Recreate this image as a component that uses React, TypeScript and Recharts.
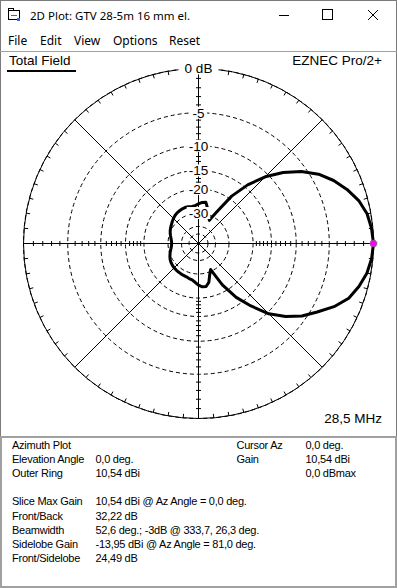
import React from "react";
import { RadarChart, Radar, PolarGrid, PolarAngleAxis, PolarRadiusAxis } from "recharts";

// ---- data ----
const AZIMUTH_DEG = [
  0, 5, 10, 15, 20, 25, 30, 35, 40, 45, 50, 55, 60, 65, 70, 75, 80, 85,
  90, 95, 100, 105, 110, 115, 120, 125, 130, 135, 140, 145, 150, 155, 160, 165, 170, 175,
  180, 185, 190, 195, 200, 205, 210, 215, 220, 225, 230, 235, 240, 245, 250, 255, 260, 265,
  270, 275, 280, 285, 290, 295, 300, 305, 310, 315, 320, 325, 330, 335, 340, 345, 350, 355,
];
// relative field (dB below max)
const PATTERN_DB = [
  0, -0.13, -0.38, -0.92, -1.75, -2.75, -4.0, -5.7, -7.9, -10.6, -14.2, -19.0, -27.0, -33.0, -30.3, -27.2, -24.5, -24.8,
  -25.5, -26.2, -26.4, -26.2, -26.0, -26.1, -26.3, -26.5, -26.9, -27.4, -28.0, -28.6, -29.1, -29.6, -30.2, -30.9, -31.5, -32.0,
  -32.2, -32.0, -31.5, -30.8, -30.1, -29.4, -28.8, -28.4, -28.1, -27.9, -27.8, -27.7, -27.6, -27.5, -27.4, -27.0, -26.7, -25.8,
  -24.6, -23.9, -23.8, -25.3, -28.7, -31.0, -22.3, -16.8, -13.1, -9.7, -7.4, -5.6, -4.2, -2.7, -1.55, -0.9, -0.4, -0.12,
];
const RING_DB = [0, -5, -10, -15, -20, -30, -40, -50];
const RING_LABEL_DB = [0, -5, -10, -15, -20, -30];
const AXIS_TICK_DB = [-1, -2, -3, -4, -6, -7, -8, -9, -11, -12, -13, -14, -16, -17, -18, -19];
const RADIAL_LINE_DEG = [0, 45, 90, 135, 180, 225, 270, 315];
const TICKED_AXIS_DEG = [0, 90, 180, 270];
const CURSOR_AZ_DEG = 0;

const WINDOW_TITLE = "2D Plot: GTV 28-5m 16 mm el.";
const MENU_ITEMS = ["File", "Edit", "View", "Options", "Reset"];
const MENU_X = [8, 40, 74, 113, 169];
const PLOT_TITLE = "Total Field";
const PROGRAM_NAME = "EZNEC Pro/2+";
const FREQUENCY = "28,5 MHz";
const INFO_LABELS = ["Azimuth Plot", "Elevation Angle", "Outer Ring", "", "Slice Max Gain", "Front/Back", "Beamwidth", "Sidelobe Gain", "Front/Sidelobe"];
const INFO_VALUES = ["", "0,0 deg.", "10,54 dBi", "", "10,54 dBi @ Az Angle = 0,0 deg.", "32,22 dB", "52,6 deg.; -3dB @ 333,7, 26,3 deg.", "-13,95 dBi @ Az Angle = 81,0 deg.", "24,49 dB"];
const CURSOR_LABELS = ["Cursor Az", "Gain", ""];
const CURSOR_VALUES = ["0,0 deg.", "10,54 dBi", "0,0 dBmax"];

// ARRL log scale: radius factor 0.89 per 2 dB
const arrl = (db: number) => Math.pow(0.89, -db / 2);
const fromArrl = (v: number) => Math.round((-2 * Math.log(v)) / Math.log(0.89));

const chartData = AZIMUTH_DEG.map((az, i) => ({ az: String(az), r: arrl(PATTERN_DB[i]) }));
const cursorIndex = AZIMUTH_DEG.indexOf(CURSOR_AZ_DEG);
// one category step, used so that the first category sits at 0 deg (right)
const STEP_DEG = 360 / AZIMUTH_DEG.length;

const FONT = '"Liberation Sans", Arial, sans-serif';

const RingLabel = (props: any) => {
  const { x, y, payload } = props;
  const db = fromArrl(payload.value);
  if (!RING_LABEL_DB.includes(db)) return <g />;
  const text = db === 0 ? "0 dB" : String(db);
  const w = db === 0 ? 40 : text.length * 6.5 + 4;
  return (
    <g>
      <rect x={x - w / 2} y={y - 6} width={w} height={12} fill="#fff" />
      <text x={x} y={y} dy="0.36em" textAnchor="middle" fontSize={13.5} fontFamily={FONT} fill="#000">
        {text}
      </text>
    </g>
  );
};

const makeAxisTick = (angleDeg: number) => (props: any) => {
  const { x, y } = props;
  const a = (angleDeg * Math.PI) / 180;
  const h = 2.5;
  const sx = Math.sin(a) * h;
  const sy = Math.cos(a) * h;
  return <line x1={x - sx} y1={y - sy} x2={x + sx} y2={y + sy} stroke="#000" strokeWidth={1} />;
};

const NoTickLabel = () => <g />;

const CursorDot = (props: any) => {
  const { cx, cy, index } = props;
  if (index !== cursorIndex) return <g key={`d${index}`} />;
  return (
    <g key={`d${index}`}>
      <circle cx={cx} cy={cy} r={3.5} fill="#ff00ff" stroke="#00c000" strokeWidth={1} strokeDasharray="1 1" />
    </g>
  );
};

const abs = (x: number, y: number, extra: any = {}) => ({ position: "absolute" as const, left: x, top: y, whiteSpace: "nowrap" as const, ...extra });

export default function App() {
  return (
    <div style={{ position: "absolute", left: 0, top: 0, width: 397, height: 588, background: "#fff", overflow: "hidden", fontFamily: FONT, color: "#000" }}>
      {/* window frame */}
      <div style={{ position: "absolute", left: 0, top: 0, width: 397, height: 588, boxSizing: "border-box", border: "1px solid #7a7a7a" }} />
      {/* title bar */}
      <svg style={abs(8, 8)} width={14} height={14}>
        <rect x={0.5} y={2.5} width={11} height={9} fill="#fff" stroke="#000" />
        <rect x={0.5} y={0.5} width={5} height={2} fill="#fff" stroke="#000" />
        <line x1={3} y1={7.5} x2={9} y2={7.5} stroke="#2a6fd6" />
        <rect x={9} y={10} width={3} height={3} fill="#2a6fd6" />
      </svg>
      <div style={abs(30, 8, { fontSize: 11.5, fontFamily: '"Noto Sans", sans-serif', lineHeight: "16px" })}>{WINDOW_TITLE}</div>
      <svg style={abs(270, 0)} width={127} height={30}>
        <line x1={279 - 270} y1={15.5} x2={289 - 270} y2={15.5} stroke="#000" />
        <rect x={322.5 - 270} y={9.5} width={10} height={10} fill="none" stroke="#000" />
        <line x1={368 - 270} y1={10} x2={378 - 270} y2={20} stroke="#000" />
        <line x1={378 - 270} y1={10} x2={368 - 270} y2={20} stroke="#000" />
      </svg>
      {/* menu */}
      {MENU_ITEMS.map((m, i) => (
        <div key={m} style={abs(MENU_X[i], 32, { fontSize: 12, fontFamily: '"Noto Sans", sans-serif', lineHeight: "17px" })}>{m}</div>
      ))}
      <div style={abs(0, 51, { width: 397, height: 1, background: "#a0a0a0" })} />
      {/* plot panel */}
      <div style={abs(0, 52, { width: 397, height: 383 })}>
        <RadarChart
          width={397}
          height={383}
          data={chartData}
          cx={198.5}
          cy={191.5}
          innerRadius={0}
          outerRadius={175}
          startAngle={-STEP_DEG}
          endAngle={360 - STEP_DEG}
          margin={{ top: 0, right: 0, bottom: 0, left: 0 }}
        >
          <PolarGrid gridType="circle" radialLines={false} polarAngles={[]} stroke="#000" strokeDasharray="4 3" />
          <PolarGrid gridType="circle" polarAngles={RADIAL_LINE_DEG} polarRadius={[]} stroke="#000" />
          <PolarAngleAxis
            dataKey="az"
            axisLineType="circle"
            stroke="#000"
            tick={NoTickLabel}
            tickLine={{ stroke: "#000" }}
            orientation="inner"
            tickSize={4}
          />
          {TICKED_AXIS_DEG.map((a) => (
            <PolarRadiusAxis
              key={"ax" + a}
              radiusAxisId={"ax" + a}
              angle={a}
              type="number"
              domain={[0, 1]}
              ticks={AXIS_TICK_DB.map(arrl)}
              axisLine={false}
              tickLine={false}
              tick={makeAxisTick(a)}
            />
          ))}
          {TICKED_AXIS_DEG.map((a) => (
            <Radar
              key={"hr" + a}
              radiusAxisId={"ax" + a}
              dataKey="r"
              stroke="none"
              fill="none"
              fillOpacity={0}
              dot={false}
              legendType="none"
              isAnimationActive={false}
            />
          ))}
          <Radar dataKey="r" stroke="#000" strokeWidth={3} fill="none" fillOpacity={0} strokeLinejoin="round" dot={CursorDot} isAnimationActive={false} />
          <PolarRadiusAxis angle={90} type="number" domain={[0, 1]} ticks={RING_DB.map(arrl)} axisLine={false} tickLine={false} tick={RingLabel} />
        </RadarChart>
        <div style={abs(9, 0, { fontSize: 13.5, lineHeight: "18px" })}>{PLOT_TITLE}</div>
        <div style={abs(7, 17.5, { width: 69, height: 2, background: "#000" })} />
        <div style={abs(0, 0, { width: 382, textAlign: "right", fontSize: 13.5, lineHeight: "18px" })}>{PROGRAM_NAME}</div>
        <div style={abs(0, 358, { width: 382, textAlign: "right", fontSize: 13.5, lineHeight: "18px" })}>{FREQUENCY}</div>
      </div>
      {/* info panel */}
      <div style={abs(0, 436, { width: 397, height: 152, boxSizing: "border-box", border: "2px solid #a0a0a0" })} />
      {INFO_LABELS.map((t, i) => (
        <div key={"l" + i} style={abs(12, 438 + i * 14.1, { fontSize: 11, lineHeight: "14px", letterSpacing: -0.25 })}>{t}</div>
      ))}
      {INFO_VALUES.map((t, i) => (
        <div key={"v" + i} style={abs(95.5, 438 + i * 14.1, { fontSize: 11, lineHeight: "14px", letterSpacing: -0.25 })}>{t}</div>
      ))}
      {CURSOR_LABELS.map((t, i) => (
        <div key={"cl" + i} style={abs(236.5, 438 + i * 14.1, { fontSize: 11, lineHeight: "14px", letterSpacing: -0.25 })}>{t}</div>
      ))}
      {CURSOR_VALUES.map((t, i) => (
        <div key={"cv" + i} style={abs(305.5, 438 + i * 14.1, { fontSize: 11, lineHeight: "14px", letterSpacing: -0.25 })}>{t}</div>
      ))}
    </div>
  );
}
